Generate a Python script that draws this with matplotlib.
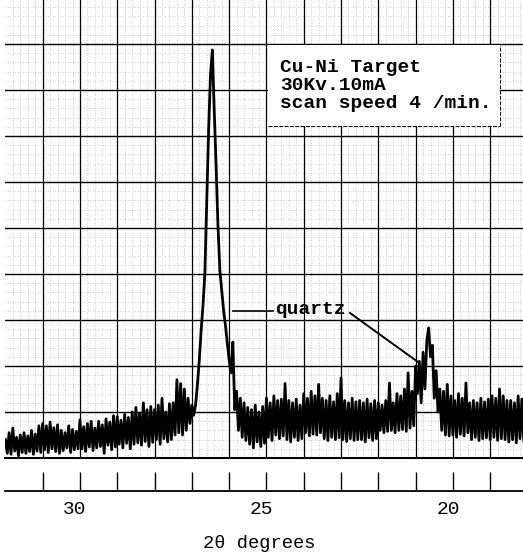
import numpy as np
import matplotlib
matplotlib.use("Agg")
import matplotlib.pyplot as plt
from matplotlib.patches import Rectangle
from matplotlib.lines import Line2D
from matplotlib.ticker import FixedLocator, NullFormatter
from matplotlib import transforms

# ---- recorder trace -------------------------------------------------------
# Pen position (chart divisions above the baseline), one reading every
# 0.05 deg 2-theta, scanning from 32.00 deg down to 18.10 deg.
scan_start = 32.0
scan_step = 0.05
pen_trace = [
    0.40, 0.10, 0.55, 0.08, 0.65, 0.15, 0.45, 0.05, 0.50, 0.12,   # 32.00
    0.55, 0.10, 0.48, 0.14, 0.60, 0.08, 0.52, 0.15, 0.70, 0.12,   # 31.50
    0.75, 0.18, 0.70, 0.12, 0.78, 0.20, 0.66, 0.14, 0.72, 0.10,   # 31.00
    0.60, 0.16, 0.55, 0.22, 0.70, 0.12, 0.62, 0.18, 0.58, 0.20,   # 30.50
    0.83, 0.20, 0.68, 0.14, 0.75, 0.24, 0.80, 0.16, 0.65, 0.22,   # 30.00
    0.80, 0.25, 0.72, 0.10, 0.85, 0.28, 0.78, 0.18, 0.92, 0.24,   # 29.50
    0.90, 0.30, 0.82, 0.22, 0.95, 0.32, 0.88, 0.20, 1.00, 0.30,   # 29.00
    1.10, 0.33, 0.98, 0.28, 1.20, 0.36, 1.05, 0.25, 1.12, 0.34,   # 28.50
    1.05, 0.40, 1.15, 0.30, 1.30, 0.42, 1.00, 0.35, 1.18, 0.40,   # 28.00
    1.20, 0.50, 1.70, 0.55, 1.62, 0.50, 1.50, 0.60, 1.30, 0.75,   # 27.50
    1.15, 0.93, 1.15, 1.60, 2.13, 2.78, 3.33, 4.02, 5.60, 7.13,   # 27.00
    8.33, 8.87, 7.57, 6.37, 5.07, 4.09, 3.65, 3.22, 2.89, 2.52,   # 26.50
    2.13, 1.85, 2.52, 1.05, 1.45, 0.60, 1.30, 0.45, 1.20, 0.38,   # 26.00
    1.10, 0.30, 1.05, 0.22, 1.15, 0.35, 1.00, 0.25, 1.12, 0.32,   # 25.50
    1.30, 0.45, 1.20, 0.38, 1.35, 0.50, 1.25, 0.42, 1.28, 0.48,   # 25.00
    1.62, 0.40, 1.25, 0.35, 1.20, 0.45, 1.28, 0.38, 1.15, 0.42,   # 24.50
    1.40, 0.55, 1.30, 0.48, 1.45, 0.52, 1.35, 0.50, 1.60, 0.55,   # 24.00
    1.30, 0.42, 1.25, 0.38, 1.35, 0.45, 1.22, 0.40, 1.40, 0.44,   # 23.50
    1.74, 0.40, 1.25, 0.36, 1.20, 0.42, 1.30, 0.38, 1.22, 0.40,   # 23.00
    1.25, 0.40, 1.20, 0.35, 1.28, 0.44, 1.18, 0.38, 1.25, 0.42,   # 22.50
    1.20, 0.60, 1.15, 0.55, 1.25, 0.58, 1.63, 0.60, 1.20, 0.55,   # 22.00
    1.40, 0.60, 1.35, 0.62, 1.50, 0.58, 1.85, 0.65, 1.45, 0.70,   # 21.50
    2.00, 1.40, 2.10, 1.20, 2.30, 1.50, 2.55, 2.83, 2.20, 2.45,   # 21.00
    1.30, 1.90, 1.00, 1.50, 0.60, 1.45, 0.50, 1.60, 0.48, 1.35,   # 20.50
    0.50, 1.25, 0.45, 1.40, 0.52, 1.30, 0.48, 1.63, 0.55, 1.20,   # 20.00
    0.40, 1.25, 0.45, 1.20, 0.38, 1.30, 0.42, 1.22, 0.44, 1.28,   # 19.50
    0.40, 1.35, 0.45, 1.30, 0.38, 1.50, 0.42, 1.35, 0.40, 1.25,   # 19.00
    0.35, 1.25, 0.40, 1.20, 0.33, 1.35, 0.42, 1.28, 0.38,         # 18.50
]

scale_ticks = list(range(19, 32))
tick_labels = {30: "30", 25: "25", 20: "20"}
info_lines = ["Cu-Ni Target", "30Kv.10mA", "scan speed 4 /min."]
peak_label = "quartz"
x_label = "2θ degrees"

plt.rcParams["font.family"] = ["Liberation Mono", "DejaVu Sans Mono", "DejaVu Sans"]

W, H = 523, 555
fig = plt.figure(figsize=(W / 100, H / 100), dpi=100)
fig.patch.set_facecolor("white")


def fx(px):
    return px / W


def fy(py):
    return 1 - py / H


X_LEFT, X_RIGHT = 32.01, 18.12
DIV_PX = 46.0

# ---- chart paper --------------------------------------------------------
ax = fig.add_axes([fx(5), fy(458), fx(523) - fx(5), 458 / H])
ax.set_xlim(X_LEFT, X_RIGHT)
ax.set_ylim(0, 458 / DIV_PX)
ax.set_xticks([])
ax.set_yticks([])
for side in ("top", "left", "right"):
    ax.spines[side].set_visible(False)
ax.spines["bottom"].set_linewidth(1.5)
ax.patch.set_alpha(0)

for d in np.arange(18.2, 32.0, 0.2):
    if abs(d - round(d)) > 1e-6:
        ax.axvline(d, color="0.62", lw=0.5, ls=(0, (1, 2.6)), zorder=0.5)
for v in np.arange(0.2, 9.95, 0.2):
    if abs(v - round(v)) > 1e-6:
        ax.axhline(v, color="0.62", lw=0.5, ls=(0, (1, 2.6)), zorder=0.5)
for d in scale_ticks:
    ax.axvline(d, color="black", lw=0.9, zorder=1)
for v in range(1, 10):
    ax.axhline(v, color="black", lw=1.0, zorder=1)

# ---- trace ----------------------------------------------------------------
two_theta = scan_start - scan_step * np.arange(len(pen_trace))
ax.plot(two_theta, pen_trace, color="black", lw=2.0, zorder=2)

# ---- label box -------------------------------------------------------------
box_l, box_r, box_b, box_t = 24.97, 18.74, 7.22, 8.98
ax.add_patch(Rectangle((box_l, box_b), box_r - box_l, box_t - box_b,
                       facecolor="white", edgecolor="none", zorder=3))
ax.plot([box_r, box_r], [box_b, box_t], color="black", lw=0.7,
        ls=(0, (4, 1.5)), zorder=4)
ax.plot([box_l, box_r], [box_b, box_b], color="black", lw=0.7,
        ls=(0, (4, 1.5)), zorder=4)

for i, line in enumerate(info_lines):
    fig.text(fx(280), fy(72 + 18 * i), line, fontsize=14, va="baseline",
             ha="left", color="black", fontweight="bold", zorder=5)

# ---- quartz marker ----------------------------------------------------------
fig.text(fx(275), fy(314), peak_label, fontsize=14, va="baseline",
         ha="left", color="black", fontweight="bold", zorder=5)
fig.add_artist(Line2D([fx(233), fx(273)], [fy(311), fy(311)],
                      transform=fig.transFigure, color="black", lw=1.2))
fig.add_artist(Line2D([fx(350), fx(418)], [fy(313), fy(362)],
                      transform=fig.transFigure, color="black", lw=1.4))

# ---- angle scale ----------------------------------------------------------------
ax2 = fig.add_axes([fx(5), fy(491), fx(523) - fx(5), (491 - 466) / H])
ax2.set_xlim(X_LEFT, X_RIGHT)
ax2.set_yticks([])
for side in ("top", "left", "right"):
    ax2.spines[side].set_visible(False)
ax2.spines["bottom"].set_linewidth(1.3)
ax2.patch.set_alpha(0)
ax2.xaxis.set_major_locator(FixedLocator(scale_ticks))
ax2.xaxis.set_major_formatter(NullFormatter())
ax2.tick_params(axis="x", direction="in", length=13.7, width=1.0)

label_tf = (transforms.blended_transform_factory(ax2.transData, ax2.transAxes)
            + transforms.ScaledTranslation(-0.05, -0.19, fig.dpi_scale_trans))
for val, txt in tick_labels.items():
    ax2.text(val, 0, txt, transform=label_tf, ha="center", va="center",
             fontsize=14)

fig.text(fx(259.5), fy(543), x_label, ha="center", va="center", fontsize=13.5)

fig.savefig("out.png", dpi=100, facecolor="white")
